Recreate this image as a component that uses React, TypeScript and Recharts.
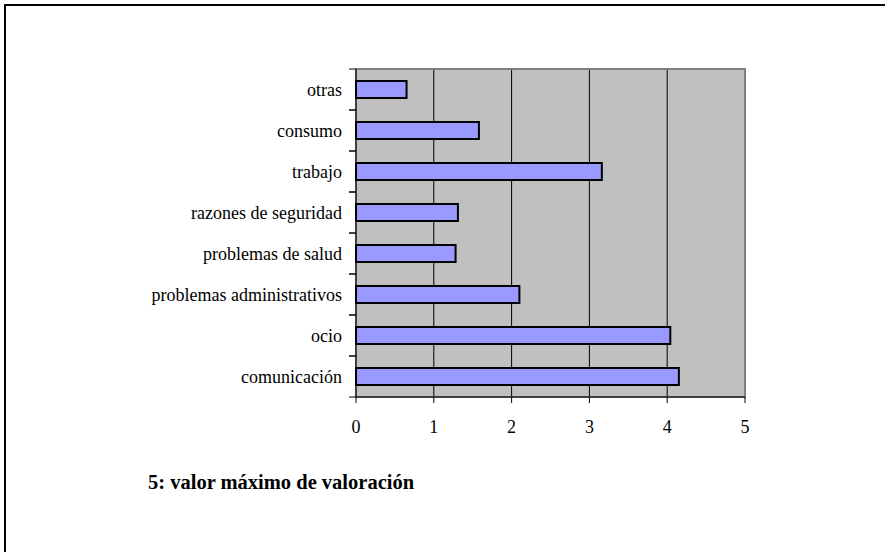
import { BarChart, Bar, XAxis, YAxis, CartesianGrid, ReferenceArea } from "recharts";

const categories = [
  "otras",
  "consumo",
  "trabajo",
  "razones de seguridad",
  "problemas de salud",
  "problemas administrativos",
  "ocio",
  "comunicación",
];
const values = [0.65, 1.58, 3.16, 1.31, 1.28, 2.1, 4.04, 4.15];
const xTicks = [0, 1, 2, 3, 4, 5];
const gridValues = [1, 2, 3, 4];
const footnote = "5: valor máximo de valoración";

const data = categories.map((name, i) => ({ name, value: values[i] }));

const FONT = "Liberation Serif";
const PLOT_H = 328;
const BAND = PLOT_H / categories.length;

function CategoryTick(props: any) {
  const { x, y, payload } = props;
  const lineX = x + 7;
  return (
    <g>
      <line x1={lineX} x2={lineX + 7} y1={y - BAND / 2} y2={y - BAND / 2} stroke="#000" />
      <line x1={lineX} x2={lineX + 7} y1={y + BAND / 2} y2={y + BAND / 2} stroke="#000" />
      <text x={x} y={y} dy="0.355em" textAnchor="end" fontFamily={FONT} fontSize={18} fill="#000">
        {payload.value}
      </text>
    </g>
  );
}

export default function App() {
  return (
    <div
      style={{
        position: "absolute",
        left: 0,
        top: 0,
        width: 885,
        height: 552,
        overflow: "hidden",
        background: "#fff",
      }}
    >
      <div
        style={{
          position: "absolute",
          left: 4,
          top: 4,
          width: 1000,
          height: 700,
          borderTop: "2px solid #000",
          borderLeft: "2px solid #000",
        }}
      />
      <div style={{ position: "absolute", left: 0, top: 0 }}>
        <BarChart
          width={885}
          height={552}
          layout="vertical"
          data={data}
          margin={{ top: 69, right: 140, bottom: 125, left: 0 }}
          barSize={17}
        >
          <CartesianGrid
            horizontal={false}
            verticalValues={gridValues}
            stroke="#000"
            fill="#c0c0c0"
            fillOpacity={1}
          />
          <ReferenceArea x1={0} x2={5} fill="none" stroke="#808080" strokeWidth={2} ifOverflow="visible" />
          <XAxis
            type="number"
            domain={[0, 5]}
            ticks={xTicks}
            height={30}
            tickSize={6}
            tickMargin={17}
            axisLine={{ stroke: "#000" }}
            tickLine={{ stroke: "#000" }}
            tick={{ fontFamily: FONT, fontSize: 18, fill: "#000" }}
          />
          <YAxis
            type="category"
            dataKey="name"
            width={356}
            tickSize={7}
            tickMargin={7}
            tickLine={false}
            axisLine={{ stroke: "#000" }}
            tick={<CategoryTick />}
            interval={0}
          />
          <Bar dataKey="value" fill="#9999ff" stroke="#000" strokeWidth={2} isAnimationActive={false} />
        </BarChart>
      </div>
      <div
        style={{
          position: "absolute",
          left: 148,
          top: 471,
          fontFamily: FONT,
          fontSize: 20.5,
          fontWeight: "bold",
          color: "#000",
          whiteSpace: "nowrap",
        }}
      >
        {footnote}
      </div>
    </div>
  );
}
